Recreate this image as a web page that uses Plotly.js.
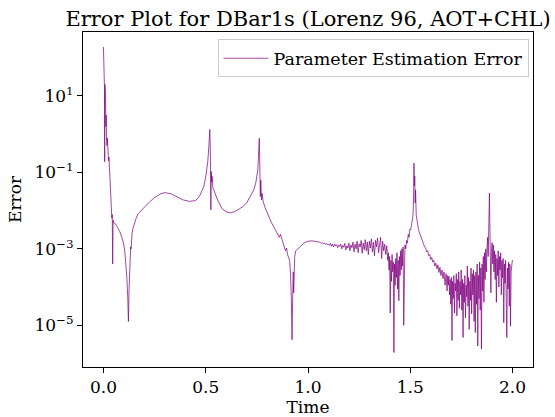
<!DOCTYPE html>
<html>
<head>
<meta charset="utf-8">
<script src="https://cdn.plot.ly/plotly-3.0.1.min.js"></script>
<style>
html, body { margin: 0; padding: 0; background: #ffffff; }
#chart { width: 555px; height: 417px; }
</style>
</head>
<body>
<div id="chart"></div>
<script>
// Values
var timeEarly = [0.000,0.002,0.003,0.005,0.006,0.007,0.009,0.010,0.012,0.013,0.015,0.017,0.019,0.021,0.023,0.025,0.027,0.029,0.031,0.033,0.035,0.037,0.039,0.041,0.043,0.045,0.047,0.050,0.055,0.060,
  0.065,0.070,0.080,0.090,0.100,0.105,0.110,0.115,0.119,0.122,0.125,0.128,0.131,0.133,0.135,0.137,0.140,0.145,0.150,0.160,0.170,0.190,0.220,0.250,0.280,0.300,0.330,0.360,0.390,0.420,
  0.450,0.470,0.490,0.500,0.510,0.515,0.520,0.523,0.525,0.527,0.529,0.531,0.535,0.545,0.560,0.580,0.600,0.620,0.640,0.660,0.680,0.700,0.720,0.735,0.745,0.755,0.762,0.765,0.767,0.769,
  0.771,0.773,0.776,0.780,0.790,0.800,0.820,0.835,0.850,0.860,0.865,0.875,0.885,0.890,0.895,0.900,0.910,0.915,0.919,0.922,0.925,0.928,0.930,0.932,0.935,0.940,0.950,0.960,0.980,1.000,
  1.020,1.040];
var errorEarly = [190,31.6,126,15.8,0.19,20,5.0,10,1.58,3.16,0.79,0.5,0.79,0.316,0.4,0.2,0.25,0.126,0.1,0.05,0.0316,0.0126,0.0089,0.0063,0.0079,4.0e-4,5.6e-3,4.8e-3,4.7e-3,4.4e-3,
  4.0e-3,3.55e-3,2.8e-3,2.0e-3,1.26e-3,7.9e-4,4.0e-4,1.58e-4,5.0e-5,1.26e-5,7.9e-5,3.16e-4,7.9e-4,1.12e-3,1.0e-3,1.58e-3,2.5e-3,3.55e-3,4.5e-3,6.3e-3,8.3e-3,0.011,0.0158,0.0219,0.0275,0.0295,0.0275,0.0229,0.019,0.0174,
  0.0182,0.024,0.0417,0.076,0.19,0.45,1.32,0.25,0.0105,0.105,0.056,0.079,0.04,0.028,0.0178,0.0112,0.0093,0.0087,0.0093,0.0107,0.0126,0.0158,0.024,0.0347,0.054,0.12,0.78,0.2,0.0234,0.063,
  0.0427,0.019,0.028,0.0178,0.012,0.0089,0.005,0.00355,0.0025,0.002,0.0024,0.00158,0.00112,8.9e-4,1.05e-3,7.1e-4,5.0e-4,2.0e-4,4.0e-5,4.2e-6,5.0e-5,2.5e-4,7.1e-5,2.0e-4,6.3e-4,8.9e-4,1.0e-3,1.12e-3,1.41e-3,1.58e-3,
  1.62e-3,1.55e-3];

var timeMid = [1.050,1.055,1.060,1.065,1.070,1.075,1.080,1.085,1.090,1.095,1.100,1.105,1.110,1.115,1.120,1.125,1.130,1.135,1.140,1.145,1.150,1.155,1.160,1.165,1.170,1.175,1.180,1.185,1.190,1.195,
  1.200,1.205,1.210,1.215,1.220,1.225,1.230,1.235,1.240,1.245,1.250,1.255,1.260,1.265,1.270,1.275,1.280,1.285,1.290,1.295,1.300,1.305,1.310,1.315,1.320,1.325,1.330,1.335,1.340,1.345,
  1.350,1.355,1.360,1.365,1.370,1.375,1.380,1.385,1.390];
var errorMid = [1.51e-3,1.45e-3,1.48e-3,1.38e-3,1.45e-3,1.35e-3,1.41e-3,1.32e-3,1.38e-3,1.26e-3,1.35e-3,1.23e-3,1.38e-3,1.17e-3,1.32e-3,1.12e-3,1.35e-3,1.20e-3,1.29e-3,1.07e-3,1.26e-3,1.15e-3,1.32e-3,1.0e-3,1.23e-3,1.10e-3,1.38e-3,9.3e-4,1.20e-3,1.05e-3,
  1.41e-3,8.9e-4,1.26e-3,1.07e-3,1.51e-3,8.3e-4,1.32e-3,1.0e-3,1.58e-3,7.9e-4,1.35e-3,1.12e-3,1.66e-3,7.6e-4,1.41e-3,9.5e-4,1.74e-3,8.9e-4,1.51e-3,7.1e-4,1.58e-3,1.05e-3,1.82e-3,8.3e-4,1.48e-3,6.6e-4,1.66e-3,1.12e-3,1.91e-3,7.9e-4,
  1.41e-3,2.0e-3,5.6e-4,1.58e-3,8.9e-4,1.32e-3,7.1e-4,1.20e-3,5.0e-4];

var timePeak = [1.393,1.396,1.399,1.402,1.405,1.408,1.411,1.414,1.417,1.420,1.423,1.426,1.429,1.432,1.435,1.438,1.441,1.444,1.447,1.450,1.453,1.456,1.459,1.462,1.465,1.468,1.471,
  1.474,1.478,1.482,1.486,1.490,1.494,1.498,1.502,1.506,1.510,1.513,1.516,1.518,1.520,1.522,1.524,1.526,1.529,1.532,1.536,1.540,
  1.545,1.550,1.555,1.560,1.565,1.570,1.575,1.580,1.585,1.590,1.595,1.600,1.605,1.610,1.615,1.620,1.625,1.630,1.635,1.640,1.645,1.650,1.655,1.660,1.665,1.670,1.675,1.680];
var errorPeak = [7.9e-4,2.8e-4,6.3e-4,2.1e-5,5.0e-4,1.41e-4,7.1e-4,2.5e-4,4.5e-4,1.95e-6,4.0e-4,1.12e-4,5.6e-4,1.78e-4,7.9e-4,8.9e-5,5.0e-4,4.4e-5,6.3e-4,2.0e-4,8.9e-4,2.8e-4,1.0e-3,3.55e-4,1.12e-3,1.0e-5,8.9e-4,
  1.26e-3,1.0e-3,1.66e-3,1.41e-3,2.4e-3,2.0e-3,3.3e-3,3.16e-3,4.5e-3,5.2e-3,7.1e-3,0.02,0.174,0.0447,0.079,0.0158,0.0347,7.9e-3,5.0e-3,4.5e-3,3.16e-3,
  2.63e-3,2.19e-3,1.91e-3,1.51e-3,1.38e-3,1.12e-3,1.05e-3,8.3e-4,8.9e-4,6.6e-4,7.1e-4,5.2e-4,6.0e-4,4.5e-4,5.0e-4,3.55e-4,4.2e-4,3.0e-4,3.8e-4,2.4e-4,3.3e-4,2.0e-4,2.8e-4,1.66e-4,2.5e-4,1.12e-4,2.24e-4,7.9e-5];

var timeLate = [1.683,1.686,1.689,1.692,1.695,1.698,1.701,1.704,1.707,1.710,1.713,1.716,1.719,1.722,1.725,1.728,1.731,1.734,1.737,1.740,1.743,1.746,1.749,1.752,1.755,1.758,1.761,1.764,1.767,1.770,
  1.773,1.776,1.779,1.782,1.785,1.788,1.791,1.794,1.797,1.800,1.803,1.806,1.809,1.812,1.815,1.818,1.821,1.824,1.827,1.830,1.833,1.836,1.839,1.842,1.845,1.848,1.851,1.854,1.857,1.860,
  1.863,1.866,1.869,1.872,1.875,1.878,1.881,1.884,1.887,1.889,1.891,1.894,1.897,1.900,1.903,1.906,1.909,1.912,1.915,1.918,1.921,1.924,1.927,1.930,1.933,1.936,1.939,1.942,1.945,1.948,
  1.951,1.954,1.957,1.960,1.963,1.966,1.969,1.972,1.975,1.978,1.981,1.984,1.987,1.990,1.993,1.996,1.999,2.000];
var errorLate = [2.0e-4,1.12e-4,1.91e-4,6.3e-5,1.58e-4,3.55e-5,1.78e-4,4.0e-6,1.41e-4,5.0e-5,2.0e-4,2.1e-5,1.26e-4,7.9e-5,2.24e-4,1.78e-5,1.58e-4,4.5e-5,2.5e-4,2.8e-5,1.41e-4,6.3e-5,2.8e-4,2.5e-5,1.58e-4,4.8e-6,1.26e-4,4.0e-5,2.0e-4,1.58e-5,
  1.12e-4,5.6e-5,3.55e-4,3.16e-5,1.78e-4,7.9e-6,1.41e-4,4.5e-5,3.16e-4,2.0e-5,2.24e-4,6.3e-5,2.8e-4,1.26e-5,2.0e-4,6.5e-6,2.5e-4,3.55e-5,4.0e-4,2.9e-6,2.0e-4,5.0e-5,4.5e-4,2.5e-5,3.16e-4,2.4e-6,4.0e-4,7.9e-5,6.3e-4,4.0e-5,
  7.9e-4,1.58e-4,1.0e-3,2.5e-4,8.9e-4,2.0e-3,6.3e-4,3.9e-3,0.0288,4.5e-3,8.9e-4,7.1e-5,7.9e-4,1.45e-3,4.0e-4,1.26e-3,2.5e-4,8.9e-4,1.58e-4,7.1e-4,4.0e-5,5.6e-4,2.0e-4,8.9e-4,1.0e-4,6.3e-4,2.8e-4,7.9e-4,6.3e-5,5.0e-4,
  1.78e-4,5.6e-4,1.17e-5,4.0e-4,1.26e-4,5.0e-4,5.0e-5,4.8e-6,3.16e-4,8.9e-5,4.5e-4,3.16e-5,4.0e-4,9.5e-6,2.5e-4,3.55e-4,5.0e-4,4.8e-4];

var xTickVals = [0, 0.5, 1.0, 1.5, 2.0];
var xTickText = ['0.0', '0.5', '1.0', '1.5', '2.0'];
var yTickVals = [10, 0.1, 0.001, 0.00001];
var yTickText = ['10<sup>1</sup>', '10<sup>\u22121</sup>', '10<sup>\u22123</sup>', '10<sup>\u22125</sup>'];

var time = timeEarly.concat(timeMid, timePeak, timeLate);
var error = errorEarly.concat(errorMid, errorPeak, errorLate);

var serif = 'DejaVu Serif, serif';

var trace = {
  x: time,
  y: error,
  type: 'scatter',
  mode: 'lines',
  name: 'Parameter Estimation Error',
  line: { color: 'rgba(128,0,128,0.72)', width: 1 }
};

var layout = {
  width: 555,
  height: 417,
  margin: { l: 83, r: 22, t: 32, b: 50, pad: 0 },
  paper_bgcolor: '#ffffff',
  plot_bgcolor: '#ffffff',
  font: { family: serif, size: 17, color: '#000000' },
  title: {
    text: 'Error Plot for DBar1s (Lorenz 96, AOT+CHL)',
    font: { family: serif, size: 21, color: '#000000' },
    x: 0.555, xanchor: 'center', xref: 'container',
    y: 0.955, yanchor: 'middle', yref: 'container'
  },
  xaxis: {
    title: { text: 'Time', font: { family: serif, size: 17 }, standoff: 3 },
    range: [-0.1, 2.1],
    tickvals: xTickVals,
    ticktext: xTickText,
    ticks: 'outside', ticklen: 5, tickwidth: 1, tickcolor: '#000000',
    tickfont: { family: serif, size: 17 },
    showline: true, linecolor: '#000000', linewidth: 1, mirror: true,
    showgrid: false, zeroline: false
  },
  yaxis: {
    title: { text: 'Error', font: { family: serif, size: 17 }, standoff: 8 },
    type: 'log',
    range: [-6.09, 2.67],
    tickvals: yTickVals,
    ticktext: yTickText,
    ticks: 'outside', ticklen: 5, tickwidth: 1, tickcolor: '#000000',
    tickfont: { family: serif, size: 17 },
    showline: true, linecolor: '#000000', linewidth: 1, mirror: true,
    showgrid: false, zeroline: false
  },
  showlegend: true,
  legend: {
    x: 0.99, xanchor: 'right', xref: 'paper',
    y: 0.978, yanchor: 'top', yref: 'paper',
    itemwidth: 45,
    bgcolor: 'rgba(255,255,255,0.8)',
    bordercolor: '#cccccc', borderwidth: 1,
    font: { family: serif, size: 17.5, color: '#000000' }
  }
};

Plotly.newPlot('chart', [trace], layout, { displayModeBar: false, staticPlot: true });
</script>
</body>
</html>
